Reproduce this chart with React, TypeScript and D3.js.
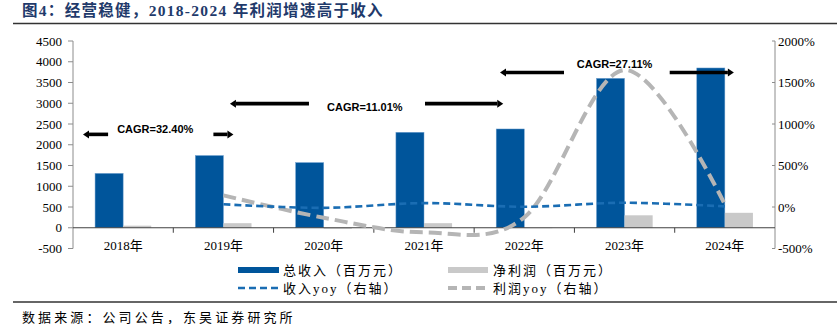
import React from 'react';
import * as d3 from 'd3';

const years = ['2018年', '2019年', '2020年', '2021年', '2022年', '2023年', '2024年'];
const revenue = [1310, 1740, 1570, 2300, 2380, 3600, 3850];
const profit = [50, 110, -25, 110, -10, 300, 360];
const revenueYoy: (number | null)[] = [null, 33, -10, 47, 3, 51, 7];
const profitYoy: (number | null)[] = [null, 140, -130, -305, -125, 1650, 30];
const leftTicks = [-500, 0, 500, 1000, 1500, 2000, 2500, 3000, 3500, 4000, 4500];
const rightTicks = [-500, 0, 500, 1000, 1500, 2000];

// CAGR annotations: arrows given in category-index units (x) and left-axis value units (y)
const cagrLabels = ['CAGR=32.40%', 'CAGR=11.01%', 'CAGR=27.11%'];
const cagrTextX = [0.32, 2.41, 4.9];
const cagrTextY = [2367, 2906, 3937];
const cagrArrowY = [2250, 2990, 3740];
const cagrLeftArrow = [[-0.15, -0.4], [1.853, 1.065], [4.396, 3.758]];
const cagrRightArrow = [[0.9, 1.1], [3.01, 3.79], [5.45, 6.09]];

const W = 838;
const H = 324;
const X0 = 73;
const X1 = 775;

const BLUE = '#00559b';
const GRAY_BAR = '#c9c9c9';
const BLUE_LINE = '#1a6db3';
const GRAY_LINE = '#b5b5b5';
const serif = "'Liberation Serif', 'Times New Roman', 'Noto Sans CJK SC', serif";
const cjk = "'Liberation Serif', 'Noto Sans CJK SC', sans-serif";

export default function App() {
  const x = d3.scaleBand<string>().domain(years).range([X0, X1]).padding(0);
  const xIdx = d3.scaleLinear().domain([-0.5, years.length - 0.5]).range([X0, X1]);
  const yL = d3.scaleLinear().domain([-500, 4500]).range([248.5, 41]);
  const yR = d3.scaleLinear().domain([-500, 2000]).range([248.5, 41]);
  const bw = x.bandwidth() * 0.28;
  const cx = (i: number) => (x(years[i]) as number) + x.bandwidth() / 2;

  const lineGen = d3
    .line<[number, number]>()
    .x((d) => d[0])
    .y((d) => d[1])
    .curve(d3.curveCardinal.tension(0));

  const mk = (arr: (number | null)[]) =>
    lineGen(
      arr
        .map((v, i) => (v == null ? null : ([cx(i), yR(v)] as [number, number])))
        .filter((p): p is [number, number] => p !== null)
    ) || '';

  const arrow = (from: number, to: number, yv: number, key: string) => {
    const xa = xIdx(from);
    const xb = xIdx(to);
    const yy = yL(yv);
    const dir = xb > xa ? 1 : -1;
    const headLen = 6;
    const tip = xb;
    const base = xb - dir * headLen;
    return (
      <g key={key}>
        <line x1={xa} y1={yy} x2={base} y2={yy} stroke="#000" strokeWidth={3.6} />
        <path d={`M${tip},${yy} L${base},${yy - 4} L${base},${yy + 4} Z`} fill="#000" />
      </g>
    );
  };

  const zeroY = yL(0);

  return (
    <svg
      width={W}
      height={H}
      style={{ position: 'absolute', left: 0, top: 0, background: '#fff' }}
      xmlns="http://www.w3.org/2000/svg"
    >
      {/* Title */}
      <text x={22} y={16} fontFamily={serif} fontWeight="bold" fontSize={15.5} letterSpacing={1.3} fill="#1f3a6b">
        图4：经营稳健，2018-2024 年利润增速高于收入
      </text>
      <line x1={13} x2={837} y1={23.5} y2={23.5} stroke="#333" strokeWidth={1.6} />

      {/* Left axis */}
      <line x1={X0} x2={X0} y1={yL(4500)} y2={yL(-500)} stroke="#8c8c8c" strokeWidth={1} />
      {leftTicks.map((t) => (
        <g key={'l' + t}>
          <line x1={X0 - 5} x2={X0} y1={yL(t)} y2={yL(t)} stroke="#8c8c8c" />
          <text x={62} y={yL(t)} dy="0.35em" textAnchor="end" fontFamily={serif} fontSize={13} fill="#000">
            {t < 0 ? '-' + Math.abs(t) : String(t)}
          </text>
        </g>
      ))}

      {/* Right axis */}
      <line x1={X1} x2={X1} y1={yR(2000)} y2={yR(-500)} stroke="#8c8c8c" strokeWidth={1} />
      {rightTicks.map((t) => (
        <g key={'r' + t}>
          <line x1={X1 - 3} x2={X1} y1={yR(t)} y2={yR(t)} stroke="#8c8c8c" />
          <text x={778} y={yR(t)} dy="0.35em" textAnchor="start" fontFamily={serif} fontSize={13} fill="#000">
            {(t < 0 ? '-' + Math.abs(t) : String(t)) + '%'}
          </text>
        </g>
      ))}

      {/* Bars */}
      {revenue.map((v, i) => (
        <rect
          key={'rev' + i}
          x={cx(i) - bw}
          y={yL(v)}
          width={bw}
          height={zeroY - yL(v)}
          fill={BLUE}
          stroke="#6f9fcf"
          strokeWidth={0.5}
        />
      ))}
      {profit.map((v, i) => (
        <rect
          key={'pro' + i}
          x={cx(i)}
          y={Math.min(yL(v), zeroY)}
          width={bw}
          height={Math.abs(zeroY - yL(v))}
          fill={GRAY_BAR}
        />
      ))}

      {/* X axis */}
      <line x1={X0} x2={X1} y1={zeroY} y2={zeroY} stroke="#404040" strokeWidth={1} />
      {years.slice(1).map((yr) => (
        <line
          key={'xt' + yr}
          x1={x(yr) as number}
          x2={x(yr) as number}
          y1={zeroY}
          y2={zeroY + 5}
          stroke="#404040"
        />
      ))}
      {years.map((yr, i) => (
        <text key={'xl' + yr} x={cx(i)} y={245} dy="0.35em" textAnchor="middle" fontFamily={cjk} fontSize={13} fill="#000">
          {yr}
        </text>
      ))}

      {/* Lines */}
      <path d={mk(profitYoy)} fill="none" stroke={GRAY_LINE} strokeWidth={4} strokeDasharray="13 6" />
      <path d={mk(revenueYoy)} fill="none" stroke={BLUE_LINE} strokeWidth={2.6} strokeDasharray="7 4" />

      {/* CAGR annotations */}
      {cagrLabels.map((lab, k) => (
        <g key={'cagr' + k}>
          {arrow(cagrLeftArrow[k][0], cagrLeftArrow[k][1], cagrArrowY[k], 'la' + k)}
          {arrow(cagrRightArrow[k][0], cagrRightArrow[k][1], cagrArrowY[k], 'ra' + k)}
          <text
            x={xIdx(cagrTextX[k])}
            y={yL(cagrTextY[k])}
            dy="0.35em"
            textAnchor="middle"
            fontFamily="'Liberation Sans', Arial, sans-serif"
            fontWeight="bold"
            fontSize={11}
            fill="#000"
          >
            {lab}
          </text>
        </g>
      ))}

      {/* Legend */}
      <rect x={238} y={267} width={41} height={6} fill={BLUE} />
      <text x={283} y={270} dy="0.35em" fontFamily={cjk} fontSize={13} letterSpacing={2} fill="#000">
        总收入（百万元）
      </text>
      <rect x={448} y={267} width={40} height={6} fill={GRAY_BAR} />
      <text x={493} y={270} dy="0.35em" fontFamily={cjk} fontSize={13} letterSpacing={2} fill="#000">
        净利润（百万元）
      </text>
      <line x1={238} x2={279} y1={288} y2={288} stroke={BLUE_LINE} strokeWidth={2.6} strokeDasharray="7 4" />
      <text x={283} y={288} dy="0.35em" fontFamily={cjk} fontSize={13} letterSpacing={2} fill="#000">
        收入yoy（右轴）
      </text>
      <line x1={448} x2={488} y1={288} y2={288} stroke={GRAY_LINE} strokeWidth={4} strokeDasharray="9 5" />
      <text x={493} y={288} dy="0.35em" fontFamily={cjk} fontSize={13} letterSpacing={2} fill="#000">
        利润yoy（右轴）
      </text>

      {/* Bottom rule and source */}
      <line x1={13} x2={837} y1={302} y2={302} stroke="#333" strokeWidth={1.6} />
      <text x={22} y={317} dy="0.35em" fontFamily={cjk} fontSize={13} letterSpacing={3.1} fill="#000">
        数据来源：公司公告，东吴证券研究所
      </text>
    </svg>
  );
}
